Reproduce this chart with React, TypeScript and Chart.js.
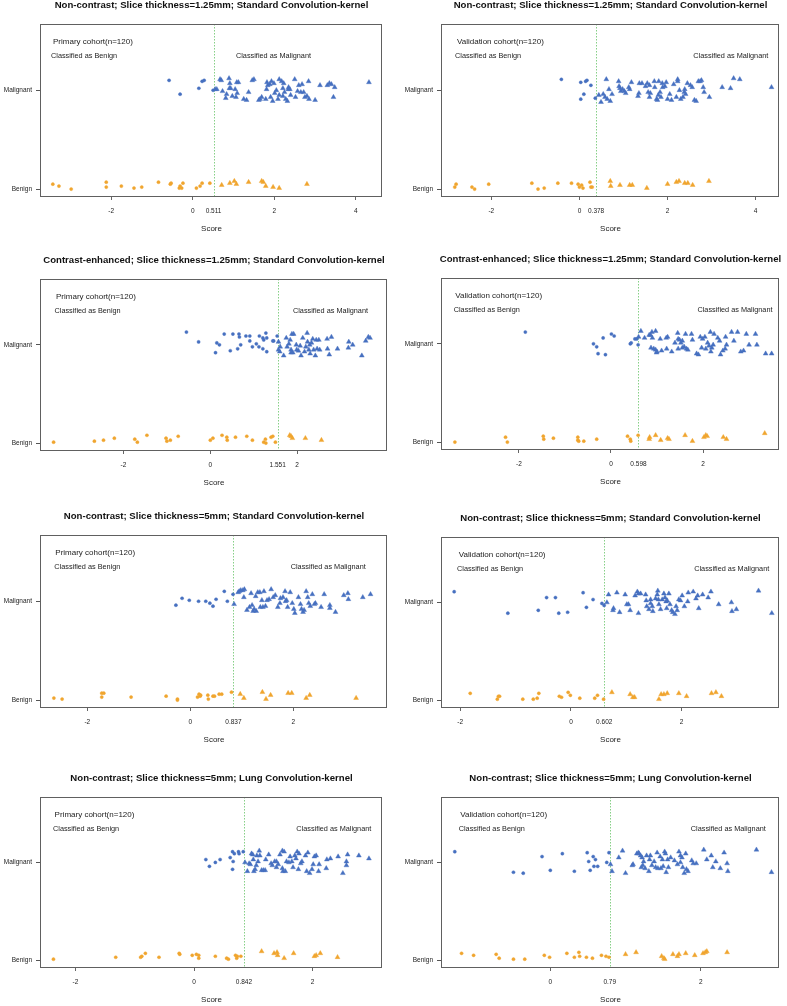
import React, { useEffect, useRef } from "react";
import { Chart, registerables } from "chart.js";

Chart.register(...registerables);

type Pt = [number, number];

const FONT = '"Liberation Sans", Arial, Helvetica, sans-serif';
const BLUE = "#4670C0";
const ORANGE = "#F0A52E";
const GREEN = "#86CF86";

const titleA = "Non-contrast; Slice thickness=1.25mm; Standard Convolution-kernel";
const titleB = "Contrast-enhanced; Slice thickness=1.25mm; Standard Convolution-kernel";
const titleC = "Non-contrast; Slice thickness=5mm; Standard Convolution-kernel";
const titleD = "Non-contrast; Slice thickness=5mm; Lung Convolution-kernel";
const primaryLabel = "Primary cohort(n=120)";
const validationLabel = "Validation cohort(n=120)";
const groupLabels = ["Benign", "Malignant"];
const cutoffs = [0.511, 0.378, 1.551, 0.598, 0.837, 0.602, 0.842, 0.79];
const xTicks: number[][] = [
  [-2, 0, 0.511, 2, 4],
  [-2, 0, 0.378, 2, 4],
  [-2, 0, 1.551, 2],
  [-2, 0, 0.598, 2],
  [-2, 0, 0.837, 2],
  [-2, 0, 0.602, 2],
  [-2, 0, 0.842, 2],
  [0, 0.79, 2],
];
const xRanges: [number, number][] = [
  [-3.72, 4.64], [-3.12, 4.53], [-3.9, 4.07], [-3.67, 3.65],
  [-2.9, 3.82], [-2.33, 3.76], [-2.58, 3.17], [-1.44, 3.04],
];

const p1Malignant: Pt[] = [[-0.58,2.10],[-0.31,1.96],[0.15,2.02],[0.23,2.09],[0.28,2.10],[0.50,2.00],
[0.55,2.01],[0.59,2.01],[0.67,2.11],[0.70,2.10],[0.89,2.12],[0.91,2.07],[0.90,2.02],[0.83,1.96],[0.81,1.92],[0.93,2.02],[1.04,2.01],[1.08,2.08],[1.12,2.08],[1.06,1.93],[1.09,1.97],[1.25,1.91],[1.32,1.90],[1.37,1.98],[1.46,2.10],[1.50,2.11],[1.62,1.90],[1.69,1.93],[1.79,1.91],[1.81,2.01],[1.84,2.05],[1.82,2.08],[1.93,2.09],[1.91,1.93],[1.96,1.89],[2.01,1.97],[2.05,2.00],[2.12,2.11],[2.18,2.09],[2.21,2.02],[2.23,2.07],[2.21,1.94],[2.25,1.98],[2.28,1.91],[2.32,1.89],[2.35,2.03],[2.40,1.95],[2.50,2.11],[2.52,1.93],[2.57,1.99],[2.60,2.05],[2.68,2.06],[2.72,1.98],[2.75,1.93],[2.80,1.94],[2.84,2.09],[2.85,1.91],[3.00,1.90],[3.12,2.05],[3.30,2.05],[3.35,2.07],[3.40,2.06],[3.45,1.93],[3.48,2.03],[4.32,2.08],[2.34,2.01],[2.12,1.95],[1.99,2.07],[1.89,2.06],[0.97,1.94],[0.73,1.99],[1.65,1.91],[2.09,1.91],[2.38,2.01],[2.65,1.98]];
const p1Benign: Pt[] = [[-3.43,1.05],[-3.28,1.03],[-2.98,1.00],[-2.12,1.07],[-2.12,1.02],[-1.75,1.03],[-1.44,1.01],[-1.25,1.02],[-0.84,1.07],[-0.55,1.05],[-0.53,1.06],[-0.31,1.03],[-0.27,1.01],[-0.24,1.06],[-0.33,1.01],[0.09,1.01],[0.18,1.03],[0.23,1.06],[0.42,1.06],
[0.71,1.04],[0.91,1.06],[1.02,1.08],[1.07,1.05],[1.37,1.07],[1.69,1.08],[1.73,1.07],[1.79,1.03],[1.97,1.02],[2.12,1.01],[2.80,1.05]];

const p2Malignant: Pt[] = [[-0.41,2.11],[0.03,2.08],[0.10,1.96],[0.03,1.91],[0.14,2.09],[0.17,2.10],[0.26,2.05],[0.36,1.92],
[0.44,1.95],[0.49,1.88],[0.54,1.96],[0.58,1.93],[0.61,2.11],[0.67,2.01],[0.63,1.91],[0.70,1.89],[0.89,2.09],[0.90,2.04],[0.92,2.02],[0.94,1.99],[0.98,2.01],[1.02,1.99],[1.05,1.97],[1.14,2.01],[1.18,2.08],[1.36,2.07],[1.35,1.97],[1.33,1.94],[1.42,2.07],[1.50,2.04],[1.54,2.07],[1.56,1.98],[1.59,2.05],[1.61,1.97],[1.70,2.09],[1.71,2.03],[1.75,1.91],[1.77,1.90],[1.79,1.95],[1.80,2.09],[1.83,1.98],[1.85,1.93],[1.88,2.07],[1.89,2.03],[1.94,2.04],[1.97,2.08],[2.00,1.91],[2.05,1.96],[2.09,1.90],[2.14,2.06],[2.20,1.93],[2.23,2.09],[2.23,2.11],[2.27,2.00],[2.30,1.91],[2.35,1.93],[2.39,2.01],[2.38,1.98],[2.45,2.07],[2.52,2.05],[2.56,2.03],[2.61,1.90],[2.65,1.89],[2.70,2.09],[2.74,2.09],[2.77,2.10],[2.81,2.03],[2.83,1.98],[2.95,1.93],[3.24,2.03],[3.43,2.02],[3.50,2.12],[3.64,2.11],[4.36,2.03],[2.41,1.96],[1.59,1.93],[1.12,2.03],[0.74,1.96]];
const p2Benign: Pt[] = [[-2.83,1.02],[-2.80,1.05],[-2.44,1.02],[-2.38,1.00],[-2.06,1.05],[-1.08,1.06],[-0.94,1.00],[-0.80,1.01],[-0.49,1.06],[-0.18,1.06],[-0.03,1.05],[0.05,1.04],[0.08,1.01],[0.00,1.02],[0.24,1.07],[0.26,1.02],[0.29,1.02],
[0.70,1.08],[0.71,1.03],[0.92,1.04],[1.14,1.04],[1.20,1.04],[1.53,1.01],[2.00,1.05],[2.20,1.07],[2.26,1.08],[2.39,1.06],[2.46,1.06],[2.57,1.04],[2.94,1.08]];

const p3Malignant: Pt[] = [[-0.55,2.13],[-0.27,2.03],[0.12,1.92],[0.15,2.02],[0.21,2.00],[0.32,2.11],[0.46,1.94],[0.52,2.11],[0.63,1.96],[0.66,2.11],[0.67,2.08],[0.70,2.00],[0.82,2.09],[0.91,2.04],[0.91,2.09],[0.97,1.98],[1.06,2.01],[1.12,1.98],[1.13,2.09],[1.21,2.07],[1.23,2.05],[1.28,2.12],[1.30,2.07],[1.21,1.96],[1.30,1.93],[1.46,2.04],[1.44,2.04],[1.54,2.09],
[1.57,2.03],[1.57,1.95],[1.61,1.98],[1.60,1.93],[1.69,1.89],[1.75,2.07],[1.77,1.98],[1.81,2.01],[1.86,1.92],[1.86,1.95],[1.88,2.11],[1.92,2.11],[1.90,1.92],[1.98,2.00],[2.03,1.94],[2.09,1.89],[2.07,1.99],[2.13,2.07],[2.17,1.93],[2.23,2.12],[2.24,2.03],[2.27,1.95],[2.29,2.00],[2.30,1.91],[2.33,2.02],[2.36,2.06],[2.38,1.95],[2.42,1.89],[2.44,2.05],[2.50,2.05],[2.52,1.95],[2.69,2.06],[2.70,1.96],[2.74,1.90],[2.79,2.08],[2.93,1.96],[3.19,2.03],[3.18,1.97],[3.28,2.00],[3.49,1.89],[3.58,2.04],[3.64,2.08],[3.68,2.07],[1.84,2.05],[1.99,1.95],[2.20,1.98],[2.46,1.96]];
const p3Benign: Pt[] = [[-3.61,1.01],[-2.67,1.02],[-2.46,1.03],[-2.21,1.05],[-1.74,1.04],[-1.68,1.01],[-1.46,1.08],[-1.02,1.05],[-1.00,1.02],[-0.92,1.03],[-0.74,1.07],[0.00,1.03],[0.06,1.05],[0.27,1.08],[0.38,1.06],[0.39,1.03],[0.58,1.06],[0.84,1.07],[0.97,1.03],[1.23,1.01],[1.27,1.04],[1.28,1.00],[1.40,1.06],[1.44,1.07],[1.50,1.01],
[1.83,1.08],[1.86,1.07],[1.89,1.05],[2.19,1.05],[2.56,1.03]];

const p4Malignant: Pt[] = [[-1.86,2.12],[-0.38,2.00],[-0.31,1.97],[-0.28,1.90],[-0.17,2.06],[-0.12,1.89],[0.01,2.10],[0.07,2.08],[0.42,2.00],[0.44,2.01],[0.52,2.05],[0.56,2.05],[0.59,1.99],
[0.60,2.07],[0.65,2.13],[0.73,2.06],[0.83,2.09],[0.86,2.09],[0.89,2.12],[0.90,2.06],[0.87,1.96],[0.97,2.13],[0.93,1.95],[0.97,1.94],[0.99,1.91],[1.00,1.92],[1.10,1.93],[1.20,2.06],[1.21,1.95],[1.32,1.92],[1.39,2.01],[1.45,2.11],[1.46,2.05],[1.46,1.95],[1.49,2.04],[1.52,2.01],[1.55,1.96],[1.59,1.97],[1.62,2.10],[1.64,1.95],[1.67,1.94],[1.75,2.10],[1.77,2.04],[1.86,1.90],[1.90,1.89],[1.94,2.07],[1.97,1.96],[1.99,2.05],[2.04,2.07],[2.06,1.95],[2.13,1.98],[2.16,2.12],[2.17,1.92],[2.19,1.96],[2.22,1.99],[2.24,2.10],[2.32,2.06],[2.36,2.03],[2.38,1.89],[2.43,1.93],[2.48,1.95],[2.49,2.07],[2.51,1.99],[2.62,2.12],[2.67,2.03],[2.75,2.12],[2.82,1.92],[2.88,1.93],[2.94,2.10],[3.00,1.99],[3.14,2.10],[3.17,1.99],[3.36,1.90],[3.49,1.90],[1.07,2.05],[1.23,2.07],[1.55,2.03],[2.10,2.01]];
const p4Benign: Pt[] = [[-3.39,1.00],[-2.29,1.05],[-2.25,1.00],[-1.47,1.06],[-1.46,1.03],[-1.25,1.04],[-0.72,1.05],[-0.72,1.02],[-0.70,1.01],[-0.59,1.01],[-0.31,1.03],[0.36,1.06],[0.42,1.03],[0.43,1.01],[0.59,1.07],
[0.84,1.05],[0.83,1.03],[0.97,1.07],[1.08,1.02],[1.23,1.04],[1.26,1.03],[1.61,1.07],[1.77,1.01],[2.02,1.05],[2.06,1.07],[2.09,1.06],[2.44,1.05],[2.51,1.03],[3.34,1.09]];

const p5Malignant: Pt[] = [[-0.28,1.96],[-0.16,2.03],[-0.02,2.01],[0.16,2.00],[0.30,2.00],[0.38,1.98],[0.44,1.95],[0.50,2.02],[0.66,2.10],[0.72,2.00],[0.83,2.07],
[0.85,1.97],[0.93,2.09],[0.95,2.10],[0.98,2.11],[1.02,2.11],[1.05,2.12],[1.04,2.04],[1.10,1.91],[1.15,1.94],[1.18,2.08],[1.20,1.96],[1.22,1.90],[1.24,1.92],[1.27,2.05],[1.28,1.90],[1.31,2.09],[1.35,2.09],[1.39,2.01],[1.41,1.94],[1.43,2.10],[1.46,1.95],[1.53,2.02],[1.57,2.12],[1.61,2.04],[1.65,2.06],[1.70,1.94],[1.74,1.98],[1.80,2.04],[1.84,2.10],[1.85,2.00],[1.87,2.01],[1.89,1.94],[1.94,2.09],[1.98,1.98],[2.01,1.92],[2.03,1.88],[2.10,2.04],[2.14,1.97],[2.16,1.92],[2.19,1.89],[2.21,1.91],[2.25,2.10],[2.28,2.04],[2.30,1.98],[2.33,1.95],[2.37,2.07],[2.41,1.97],[2.43,1.98],[2.54,1.94],[2.60,2.07],[2.71,1.96],[2.71,1.93],[2.82,1.89],[2.98,2.06],[3.06,2.08],[3.07,2.02],[3.35,2.04],[3.50,2.07],[1.49,2.01],[1.75,2.03],[1.36,1.94]];
const p5Benign: Pt[] = [[-2.65,1.02],[-2.49,1.01],[-1.72,1.07],[-1.68,1.07],[-1.72,1.03],[-1.15,1.03],[-0.47,1.04],[-0.25,1.01],[-0.25,1.00],[0.14,1.03],[0.17,1.06],[0.20,1.05],[0.19,1.04],[0.34,1.05],[0.35,1.01],[0.44,1.04],[0.47,1.04],[0.56,1.06],[0.61,1.06],[0.80,1.08],
[0.97,1.06],[1.04,1.02],[1.40,1.08],[1.47,1.01],[1.56,1.05],[1.90,1.07],[1.97,1.07],[2.25,1.02],[2.32,1.05],[3.22,1.02]];

const p6Malignant: Pt[] = [[-2.11,2.11],[-1.14,1.89],[-0.59,1.92],[-0.44,2.05],[-0.28,2.05],[-0.22,1.89],[-0.06,1.90],[0.22,2.10],[0.28,1.95],[0.40,2.03],[0.56,1.99],[0.60,1.97],
[0.65,2.00],[0.68,2.08],[0.76,1.92],[0.77,1.94],[0.83,2.10],[0.88,1.90],[0.98,2.08],[1.01,1.98],[1.04,1.98],[1.07,1.92],[1.16,2.07],[1.20,2.11],[1.22,2.09],[1.26,2.09],[1.22,1.89],[1.35,2.08],[1.36,2.02],[1.37,1.96],[1.41,1.93],[1.44,2.03],[1.47,1.96],[1.48,1.91],[1.53,2.04],[1.56,2.08],[1.57,2.12],[1.58,2.03],[1.59,1.98],[1.62,1.93],[1.65,2.03],[1.68,2.09],[1.70,2.05],[1.72,2.01],[1.73,1.94],[1.77,2.09],[1.79,1.98],[1.82,1.92],[1.84,1.90],[1.88,1.88],[1.90,1.96],[1.92,1.92],[1.95,2.03],[1.98,2.02],[2.05,1.96],[2.11,2.01],[2.12,2.10],[2.21,2.11],[2.26,2.04],[2.29,2.07],[2.31,1.94],[2.38,2.08],[2.48,2.05],[2.53,2.11],[2.67,1.98],[2.90,2.00],[2.91,1.91],[2.99,1.93],[3.39,2.12],[3.63,1.89],[1.74,2.02],[1.44,1.99],[2.01,2.07]];
const p6Benign: Pt[] = [[-1.82,1.07],[-1.33,1.01],[-1.31,1.04],[-1.29,1.04],[-0.87,1.01],[-0.68,1.01],[-0.61,1.02],[-0.58,1.07],[-0.21,1.04],[-0.17,1.03],[-0.05,1.08],[-0.01,1.05],[0.16,1.02],[0.43,1.02],[0.48,1.05],[0.59,1.01],
[0.74,1.08],[1.07,1.06],[1.12,1.03],[1.15,1.03],[1.59,1.01],[1.63,1.06],[1.68,1.06],[1.74,1.07],[1.95,1.07],[2.09,1.04],[2.54,1.07],[2.62,1.08],[2.72,1.04]];

const p7Malignant: Pt[] = [[0.20,2.03],[0.26,1.96],[0.36,2.00],[0.44,2.03],[0.61,2.05],[0.65,2.11],[0.66,2.01],[0.65,1.93],[0.68,2.09],[0.75,2.11],[0.76,2.09],[0.83,2.11],
[0.86,2.00],[0.90,1.91],[0.93,1.99],[0.95,1.98],[0.97,2.09],[0.99,2.08],[1.01,1.91],[1.03,1.93],[1.05,1.97],[1.06,2.07],[1.08,2.01],[1.10,2.12],[1.11,2.07],[1.14,1.92],[1.17,1.92],[1.20,1.92],[1.21,2.03],[1.26,2.08],[1.30,1.99],[1.32,1.97],[1.36,2.01],[1.39,2.01],[1.42,1.98],[1.45,2.08],[1.49,1.94],[1.49,2.12],[1.50,1.91],[1.52,2.11],[1.54,1.91],[1.56,2.01],[1.60,2.00],[1.65,2.01],[1.67,1.95],[1.70,2.07],[1.72,2.04],[1.74,2.11],[1.76,1.93],[1.77,2.09],[1.80,1.99],[1.82,2.01],[1.88,2.07],[1.90,1.91],[1.92,2.10],[1.95,1.89],[1.99,1.93],[2.01,1.98],[2.03,2.06],[2.06,2.07],[2.10,1.91],[2.23,1.94],[2.24,2.03],[2.30,2.04],[2.43,2.06],[2.51,1.89],[2.57,1.97],[2.59,2.08],[2.78,2.07],[2.95,2.04],[1.00,2.03],[1.62,2.06],[2.11,1.98],[1.39,1.95],[2.57,2.01]];
const p7Benign: Pt[] = [[-2.37,1.01],[-1.32,1.03],[-0.90,1.03],[-0.88,1.04],[-0.82,1.07],[-0.59,1.03],[-0.25,1.07],[-0.24,1.06],[-0.03,1.05],[0.04,1.06],[0.08,1.05],[0.08,1.02],[0.36,1.04],[0.55,1.02],[0.58,1.01],[0.70,1.05],[0.73,1.04],[0.72,1.02],[0.79,1.04],
[1.14,1.09],[1.35,1.07],[1.40,1.08],[1.41,1.05],[1.52,1.02],[1.68,1.07],[2.03,1.04],[2.06,1.05],[2.13,1.07],[2.42,1.03]];

const p8Malignant: Pt[] = [[-1.27,2.11],[-0.49,1.90],[-0.36,1.89],[-0.11,2.06],[0.00,1.92],[0.16,2.09],[0.32,1.91],[0.49,2.10],[0.51,2.01],[0.53,1.92],[0.57,2.06],[0.58,1.96],[0.60,2.03],[0.63,1.96],[0.75,2.00],[0.78,2.10],
[0.80,1.98],[0.82,1.91],[0.91,2.05],[0.96,2.12],[1.00,1.89],[1.09,1.97],[1.10,1.98],[1.15,2.09],[1.17,2.10],[1.18,2.09],[1.20,2.07],[1.21,1.95],[1.22,2.05],[1.24,2.01],[1.26,1.94],[1.28,2.07],[1.31,1.91],[1.32,2.03],[1.33,2.07],[1.35,1.97],[1.38,2.01],[1.40,1.95],[1.42,2.10],[1.43,1.94],[1.46,2.06],[1.47,1.94],[1.49,2.03],[1.50,1.96],[1.52,2.11],[1.53,2.09],[1.54,1.90],[1.57,1.95],[1.60,2.05],[1.65,2.02],[1.69,1.98],[1.71,2.11],[1.73,2.07],[1.75,2.05],[1.76,1.95],[1.78,1.89],[1.80,2.09],[1.81,1.93],[1.83,1.91],[1.88,2.02],[1.90,1.99],[1.94,1.99],[2.04,2.13],[2.08,2.03],[2.14,2.07],[2.16,1.95],[2.20,2.01],[2.26,1.94],[2.31,2.10],[2.35,1.99],[2.36,1.91],[2.74,2.13],[2.94,1.90],[1.56,2.03],[1.23,1.97],[1.73,2.00]];
const p8Benign: Pt[] = [[-1.18,1.07],[-1.02,1.05],[-0.72,1.06],[-0.68,1.02],[-0.49,1.01],[-0.34,1.01],[-0.08,1.05],[-0.01,1.03],[0.22,1.07],[0.32,1.03],[0.38,1.08],[0.39,1.04],[0.48,1.03],[0.56,1.02],[0.68,1.05],[0.74,1.04],[0.78,1.03],
[1.00,1.06],[1.14,1.08],[1.48,1.04],[1.51,1.02],[1.52,1.01],[1.63,1.06],[1.69,1.04],[1.71,1.06],[1.80,1.07],[1.92,1.05],[2.03,1.07],[2.06,1.08],[2.08,1.09],[2.35,1.08]];

// layout (page pixels): plot box [left, top, right, bottom]
type PanelCfg = {
  title: string; cohort: string; cutoff: number; ticks: number[]; range: [number, number];
  box: [number, number, number, number]; malCx: number; cohortDx: number; benignDx: number;
  mal: Pt[]; ben: Pt[];
};

const panels: PanelCfg[] = [
  { title: titleA, cohort: primaryLabel, cutoff: cutoffs[0], ticks: xTicks[0], range: xRanges[0], box: [41, 24, 382, 196], malCx: 273.5, cohortDx: 12, benignDx: 10, mal: p1Malignant, ben: p1Benign },
  { title: titleA, cohort: validationLabel, cutoff: cutoffs[1], ticks: xTicks[1], range: xRanges[1], box: [442, 24, 779, 196], malCx: 730.8, cohortDx: 15, benignDx: 13, mal: p2Malignant, ben: p2Benign },
  { title: titleB, cohort: primaryLabel, cutoff: cutoffs[2], ticks: xTicks[2], range: xRanges[2], box: [41, 279, 387, 450], malCx: 330.5, cohortDx: 15, benignDx: 13.5, mal: p3Malignant, ben: p3Benign },
  { title: titleB, cohort: validationLabel, cutoff: cutoffs[3], ticks: xTicks[3], range: xRanges[3], box: [442, 278, 779, 449], malCx: 735, cohortDx: 13.3, benignDx: 11.7, mal: p4Malignant, ben: p4Benign },
  { title: titleC, cohort: primaryLabel, cutoff: cutoffs[4], ticks: xTicks[4], range: xRanges[4], box: [41, 535, 387, 707], malCx: 328.2, cohortDx: 14.3, benignDx: 13.3, mal: p5Malignant, ben: p5Benign },
  { title: titleC, cohort: validationLabel, cutoff: cutoffs[5], ticks: xTicks[5], range: xRanges[5], box: [442, 537, 779, 707], malCx: 731.7, cohortDx: 16.7, benignDx: 15, mal: p6Malignant, ben: p6Benign },
  { title: titleD, cohort: primaryLabel, cutoff: cutoffs[6], ticks: xTicks[6], range: xRanges[6], box: [41, 797, 382, 967], malCx: 333.8, cohortDx: 13.6, benignDx: 12, mal: p7Malignant, ben: p7Benign },
  { title: titleD, cohort: validationLabel, cutoff: cutoffs[7], ticks: xTicks[7], range: xRanges[7], box: [442, 797, 779, 967], malCx: 728.3, cohortDx: 18.3, benignDx: 16.7, mal: p8Malignant, ben: p8Benign },
];

const PAD_L = 41, PAD_T = 26, PAD_R = 6, PAD_B = 44;

function makeAnnot(cfg: PanelCfg, canvasLeft: number) {
  return {
    id: "annot",
    beforeDatasetsDraw(chart: any) {
      const { ctx, chartArea, scales } = chart;
      const px = Math.round(scales.x.getPixelForValue(cfg.cutoff)) + 0.5;
      ctx.save();
      ctx.strokeStyle = GREEN;
      ctx.lineWidth = 1;
      ctx.setLineDash([1.5, 1.5]);
      ctx.beginPath();
      ctx.moveTo(px, chartArea.top);
      ctx.lineTo(px, chartArea.bottom);
      ctx.stroke();
      ctx.restore();
    },
    afterDraw(chart: any) {
      const { ctx, chartArea } = chart;
      const { left, right, top, bottom } = chartArea;
      ctx.save();
      ctx.strokeStyle = "#606060";
      ctx.lineWidth = 1;
      ctx.strokeRect(Math.round(left) - 0.5, Math.round(top) + 0.5, Math.round(right - left), Math.round(bottom - top));
      ctx.fillStyle = "#111";
      ctx.textBaseline = "middle";
      ctx.textAlign = "center";
      ctx.font = `bold 9.6px ${FONT}`;
      ctx.fillText(cfg.title, (left + right) / 2, top - 18.5);
      ctx.fillStyle = "#222";
      ctx.textAlign = "left";
      ctx.font = `8px ${FONT}`;
      ctx.fillText(cfg.cohort, left + cfg.cohortDx, top + 17.7);
      ctx.font = `7.3px ${FONT}`;
      ctx.fillText("Classified as Benign", left + cfg.benignDx, top + 31.8);
      ctx.textAlign = "center";
      ctx.fillText("Classified as Malignant", cfg.malCx - canvasLeft, top + 31.8);
      ctx.restore();
    },
  };
}

function Panel({ cfg }: { cfg: PanelCfg }) {
  const ref = useRef<HTMLCanvasElement>(null);
  const [l, t, r, b] = cfg.box;
  const cLeft = l - PAD_L;
  const cTop = t - PAD_T;
  const w = r - l + PAD_L + PAD_R;
  const h = b - t + PAD_T + PAD_B;

  useEffect(() => {
    if (!ref.current) return;
    const styleFor = (c: any) => (c.raw && c.raw.x < cfg.cutoff ? "circle" : "triangle");
    const radiusFor = (c: any) => (c.raw && c.raw.x < cfg.cutoff ? 1.6 : 2.8);
    const chart = new Chart(ref.current, {
      type: "scatter",
      data: {
        datasets: [
          {
            label: groupLabels[1],
            data: cfg.mal.map(([x, y]) => ({ x, y })),
            backgroundColor: BLUE,
            borderColor: BLUE,
            borderWidth: 0.4,
            pointStyle: styleFor as any,
            pointRadius: radiusFor as any,
          },
          {
            label: groupLabels[0],
            data: cfg.ben.map(([x, y]) => ({ x, y })),
            backgroundColor: ORANGE,
            borderColor: ORANGE,
            borderWidth: 0.4,
            pointStyle: styleFor as any,
            pointRadius: radiusFor as any,
          },
        ],
      },
      options: {
        responsive: false,
        animation: false,
        events: [],
        layout: { padding: { left: 0, top: PAD_T, right: PAD_R, bottom: 0 } },
        plugins: { legend: { display: false }, tooltip: { enabled: false }, title: { display: false } },
        scales: {
          x: {
            type: "linear",
            min: cfg.range[0],
            max: cfg.range[1],
            bounds: "data",
            afterFit: (s: any) => { s.height = PAD_B; },
            afterBuildTicks: (s: any) => { s.ticks = cfg.ticks.map((v) => ({ value: v })); },
            ticks: {
              autoSkip: false,
              maxRotation: 0,
              padding: 7,
              color: "#222",
              font: { family: FONT, size: 6.5 },
              callback: (v: any) => String(v),
            },
            grid: {
              drawOnChartArea: false,
              drawTicks: true,
              tickLength: 4,
              color: (c: any) => (c.tick && c.tick.value === cfg.cutoff ? "rgba(0,0,0,0)" : "#666"),
            },
            border: { display: false },
            title: {
              display: true,
              text: "Score",
              color: "#222",
              font: { family: FONT, size: 8 },
              padding: { top: 0, bottom: 6 },
            },
          },
          y: {
            type: "linear",
            min: 0.93,
            max: 2.67,
            afterFit: (s: any) => { s.width = PAD_L; },
            afterBuildTicks: (s: any) => { s.ticks = [{ value: 1 }, { value: 2 }]; },
            ticks: {
              padding: 4,
              color: "#222",
              font: { family: FONT, size: 6.5 },
              callback: (v: any) => (v === 2 ? groupLabels[1] : groupLabels[0]),
            },
            grid: { drawOnChartArea: false, drawTicks: true, tickLength: 5, color: "#555" },
            border: { display: false },
          },
        },
      },
      plugins: [makeAnnot(cfg, cLeft)],
    });
    return () => chart.destroy();
  }, []);

  return (
    <canvas
      ref={ref}
      width={w}
      height={h}
      style={{ position: "absolute", left: cLeft, top: cTop, width: w, height: h }}
    />
  );
}

export default function App() {
  return (
    <div style={{ position: "absolute", left: 0, top: 0, width: 787, height: 1006, background: "#fff", overflow: "hidden" }}>
      {panels.map((p, i) => (
        <Panel key={i} cfg={p} />
      ))}
    </div>
  );
}
